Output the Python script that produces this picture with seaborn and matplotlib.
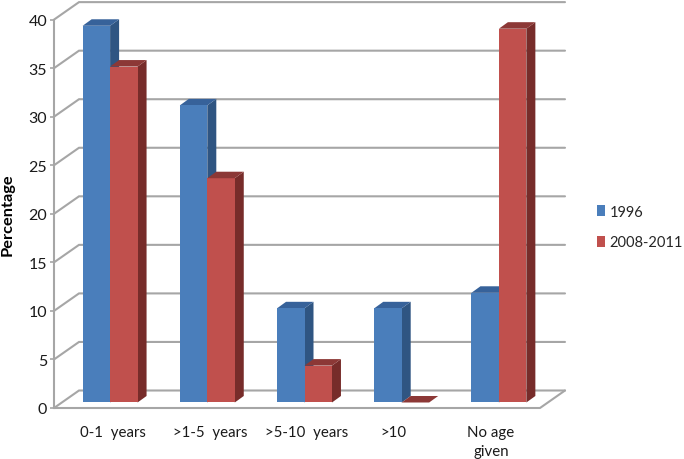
import pandas as pd
import matplotlib.pyplot as plt
from matplotlib.patches import Polygon
import seaborn as sns
import numpy as np

sns.set_style('white')
plt.rcParams['font.family'] = ['Lato', 'DejaVu Sans']

# data
categories = ['0-1  years', '>1-5  years', '>5-10  years', '>10', 'No age\ngiven']
values_1996 = [38.8, 30.6, 9.7, 9.7, 11.3]
values_2008 = [34.6, 23.1, 3.8, 0, 38.5]
y_ticks = [0, 5, 10, 15, 20, 25, 30, 35, 40]
label_shift = [0.03, 0.03, 0.02, -0.08, -0.08]

colors = {'1996': '#4A7EBB', '2008-2011': '#C0504D'}
side_colors = {'1996': '#2F5582', '2008-2011': '#772C2A'}
top_colors = {'1996': '#37629A', '2008-2011': '#8C3836'}
grid_color = '#A6A6A6'

df = pd.DataFrame({
    'age': categories * 2,
    'pct': values_1996 + values_2008,
    'period': ['1996'] * 5 + ['2008-2011'] * 5,
})

fig = plt.figure(figsize=(6.84, 4.6), dpi=100)
ax = fig.add_axes([61.5 / 684, 1 - 409 / 460, 486 / 684, 406.5 / 460])

sns.barplot(data=df, x='age', y='pct', hue='period', palette=colors, hue_order=list(colors),
            width=0.565, gap=0, saturation=1, dodge=True, ax=ax, zorder=3, errorbar=None,
            linewidth=0, edgecolor='none')

ax.set_xlim(-0.5, 4.5)
ax.set_ylim(-0.567, 41.3)

# pixels to data units
px_x = 5 / 486
px_y = (41.3 + 0.567) / 406.5

# bar depth
depth_x = 9 * px_x
depth_y = 6.5 * px_y
for container, name in zip(ax.containers, colors):
    for bar in container:
        x0 = bar.get_x()
        x1 = x0 + bar.get_width()
        h = bar.get_height()
        ax.add_patch(Polygon([(x1, 0), (x1 + depth_x, depth_y), (x1 + depth_x, h + depth_y), (x1, h)],
                             fc=side_colors[name], ec='none', zorder=2, clip_on=False))
        ax.add_patch(Polygon([(x0, h), (x0 + depth_x, h + depth_y), (x1 + depth_x, h + depth_y), (x1, h)],
                             fc=top_colors[name], ec='none', zorder=3 if name != '1996' else 2, clip_on=False))

# front axis sits lower and further left than the bars
front_y = -0.567
front_x0 = -0.5 - 7.5 * px_x
front_x1 = front_x0 + 486 * px_x
wall_x = 25 * px_x
wall_y = 17.5 * px_y
for t in y_ticks:
    y = t + front_y
    ax.plot([front_x0, front_x0 + wall_x, front_x1 + wall_x], [y, y + wall_y, y + wall_y],
            color=grid_color, lw=1.5, zorder=1, clip_on=False, solid_joinstyle='miter')
ax.plot([front_x0, front_x1, front_x1 + wall_x], [front_y, front_y, front_y + wall_y],
        color=grid_color, lw=1.5, zorder=1, clip_on=False)

sns.despine(ax=ax, top=True, right=True, bottom=True)
ax.spines['left'].set_position(('outward', 7.5 * 0.72))
ax.spines['left'].set_color(grid_color)
ax.spines['left'].set_linewidth(1.5)
ax.spines['left'].set_bounds(front_y, 40 + front_y)

ax.set_yticks(np.array(y_ticks) + front_y, labels=y_ticks)
ax.tick_params(axis='y', left=True, length=3, width=1.2, color=grid_color, pad=2,
               labelsize=11.5, labelcolor='#1a1a1a')
ax.set_xticks(np.arange(5) + np.array(label_shift), labels=categories)
ax.tick_params(axis='x', bottom=False, pad=9, labelsize=10.8, labelcolor='#1a1a1a')
for lab in ax.get_xticklabels():
    lab.set_linespacing(1.45)

ax.set_xlabel('')
ax.set_ylabel('')
fig.text(8 / 684, 1 - 215 / 460, 'Percentage', rotation=90, fontsize=11.8, fontweight='bold',
         ha='center', va='center', color='black')

handles, labels = ax.get_legend_handles_labels()
ax.legend(handles, labels, loc='center left', bbox_to_anchor=(596.5 / 684, 1 - 228 / 460),
          bbox_transform=fig.transFigure, frameon=False, fontsize=10.5, handlelength=0.6,
          handleheight=0.75, handletextpad=0.28, labelspacing=1.15, borderpad=0, borderaxespad=0)

plt.savefig('out.png', dpi=100)
